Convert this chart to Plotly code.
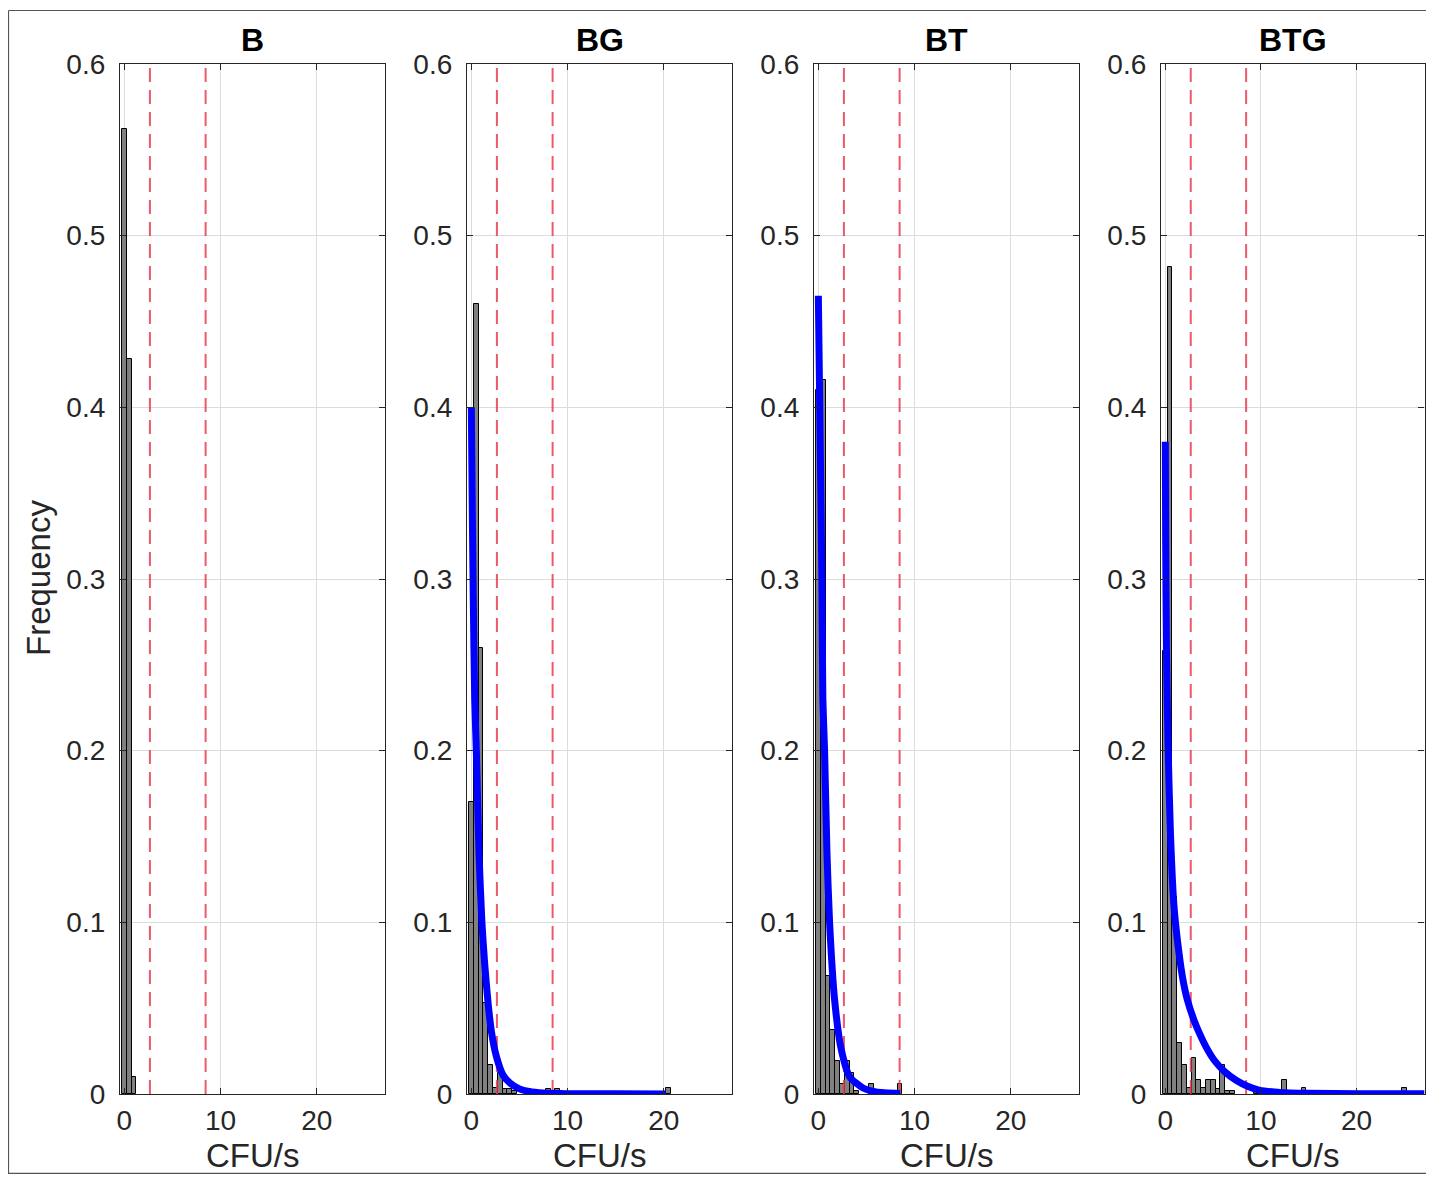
import plotly.graph_objects as go

# page body has an 8px margin: the figure starts at (8, 8) of the window
OX, OY = 8, 8
W, H = 1434 - 2 * OX, 1182 - 2 * OY

titles = ["B", "BG", "BT", "BTG"]
bin_width = 0.5
thresholds = [2.66, 8.45]

B_x = [0.0, 0.5, 1.0]
B_y = [0.562, 0.428, 0.010]

BG_x = [0.0, 0.5, 1.0, 1.5, 2.0, 2.5, 3.0, 3.5, 4.0, 4.5, 6.0, 8.0, 9.0, 20.5]
BG_y = [0.17, 0.46, 0.26, 0.053, 0.017, 0.0035, 0.012, 0.003, 0.003, 0.002, 0.003, 0.003, 0.003, 0.0035]

BT_x = [0.0, 0.5, 1.0, 1.5, 2.0, 2.5, 3.0, 3.5, 4.0, 5.5, 8.5]
BT_y = [0.41, 0.416, 0.069, 0.037, 0.019, 0.006, 0.019, 0.012, 0.002, 0.006, 0.006]

BTG_x = [0.0, 0.5, 1.0, 1.5, 2.0, 2.5, 3.0, 3.5, 4.0, 4.5, 5.0, 5.5, 6.0, 6.5, 7.0, 9.5, 10.0, 12.5, 14.5, 25.0]
BTG_y = [0.258, 0.482, 0.115, 0.030, 0.017, 0.0035, 0.021, 0.008, 0.0035, 0.008, 0.008, 0.003, 0.017, 0.002, 0.002, 0.003, 0.003, 0.008, 0.0035, 0.0035]

BG_fit_x = [0, 0.1, 0.2, 0.35, 0.52, 0.8, 1.1, 1.4, 1.74, 2.1, 2.6, 3.3, 4.0, 5.0, 6.0, 7.5, 10, 15, 20.2]
BG_fit_y = [0.40, 0.34, 0.29, 0.23, 0.20, 0.14, 0.10, 0.075, 0.053, 0.036, 0.022, 0.011, 0.0065, 0.003, 0.0015, 0.0006, 0.0002, 0.0001, 0.0]

BT_fit_x = [0, 0.15, 0.37, 0.47, 0.65, 0.9, 1.17, 1.69, 2.38, 3.26, 4.65, 6.0, 8.5]
BT_fit_y = [0.465, 0.40, 0.30, 0.23, 0.20, 0.14, 0.10, 0.055, 0.026, 0.010, 0.0035, 0.0012, 0.0003]

BTG_fit_x = [0, 0.04, 0.12, 0.3, 0.55, 0.9, 1.3, 1.8, 2.3, 3.0, 3.6, 4.3, 5.1, 6.2, 7.4, 8.6, 9.8, 12, 15, 20, 27.1]
BTG_fit_y = [0.38, 0.32, 0.26, 0.20, 0.15, 0.11, 0.088, 0.068, 0.055, 0.043, 0.035, 0.027, 0.0198, 0.013, 0.008, 0.0045, 0.0023, 0.0009, 0.0004, 0.0002, 0.0001]

hist_x = [B_x, BG_x, BT_x, BTG_x]
hist_y = [B_y, BG_y, BT_y, BTG_y]
fits = [None, (BG_fit_x, BG_fit_y), (BT_fit_x, BT_fit_y), (BTG_fit_x, BTG_fit_y)]

x_ticks = [0, 10, 20]
y_ticks = [0, 0.1, 0.2, 0.3, 0.4, 0.5, 0.6]
y_ticktext = ["0", "0.1", "0.2", "0.3", "0.4", "0.5", "0.6"]
x_range = [-0.45, 27.1]
y_range = [0, 0.6]

# layout geometry (window pixels)
lefts = [120, 467, 814, 1161]
rights = [385, 732, 1079, 1424.5]
top_px, bot_px = 64, 1094


def px(x):
    return (x - OX) / W


def py(y):
    return 1 - (y - OY) / H


FONT = "Liberation Sans, Arial, Helvetica, sans-serif"
AX = "#262626"

fig = go.Figure()
for i in range(4):
    xa = "x" if i == 0 else f"x{i+1}"
    ya = "y" if i == 0 else f"y{i+1}"
    fig.add_trace(go.Bar(x=hist_x[i], y=hist_y[i], width=bin_width,
                         marker=dict(color="#808080", line=dict(color="black", width=1)),
                         xaxis=xa, yaxis=ya, showlegend=False))
    for t in thresholds:
        fig.add_trace(go.Scatter(x=[t, t], y=y_range, mode="lines",
                                 line=dict(color="rgba(232,60,80,0.85)", width=2, dash="14px,8px"),
                                 xaxis=xa, yaxis=ya, showlegend=False))
    if fits[i] is not None:
        fig.add_trace(go.Scatter(x=fits[i][0], y=fits[i][1], mode="lines",
                                 line=dict(color="#0000ff", width=7, shape="spline", smoothing=0.6),
                                 xaxis=xa, yaxis=ya, showlegend=False))

layout = dict(width=W, height=H, margin=dict(l=0, r=0, t=0, b=0, pad=0), autosize=False,
              paper_bgcolor="white", plot_bgcolor="white", bargap=0,
              font=dict(family=FONT, color=AX, size=26))

ydom = [py(bot_px), py(top_px)]
annotations = []
for i in range(4):
    xk = "xaxis" if i == 0 else f"xaxis{i+1}"
    yk = "yaxis" if i == 0 else f"yaxis{i+1}"
    xd = [px(lefts[i]), min(1.0, px(rights[i]))]
    common = dict(showgrid=True, gridcolor="#dcdcdc", gridwidth=1, zeroline=False,
                  showline=True, linecolor=AX, linewidth=1.3, mirror="ticks",
                  ticks="inside", ticklen=6, tickcolor=AX, automargin=False,
                  tickfont=dict(size=28, color=AX, family=FONT))
    layout[xk] = dict(domain=xd, range=x_range, tickvals=x_ticks, ticktext=[str(v) for v in x_ticks],
                      ticklabelstandoff=1, anchor="y" if i == 0 else f"y{i+1}", **common)
    layout[yk] = dict(domain=ydom, range=y_range, tickvals=y_ticks, ticktext=y_ticktext,
                      ticklabelstandoff=8, anchor="x" if i == 0 else f"x{i+1}", **common)
    cx = px((lefts[i] + rights[i]) / 2)
    annotations.append(dict(text=f"<b>{titles[i]}</b>", x=cx, y=py(40), xref="paper", yref="paper",
                            showarrow=False, font=dict(size=32, color="black", family=FONT),
                            xanchor="center", yanchor="middle"))
    annotations.append(dict(text="CFU/s", x=cx, y=py(1155), xref="paper", yref="paper",
                            showarrow=False, font=dict(size=33, color=AX, family=FONT),
                            xanchor="center", yanchor="middle"))
annotations.append(dict(text="Frequency", x=px(38), y=py(578), xref="paper", yref="paper",
                        textangle=-90, showarrow=False, font=dict(size=33, color=AX, family=FONT),
                        xanchor="center", yanchor="middle"))
layout["annotations"] = annotations
frame = dict(color="#555555", width=1.2)
layout["shapes"] = [
    dict(type="line", xref="paper", yref="paper", x0=px(8.5), x1=1, y0=py(10.5), y1=py(10.5), line=frame),
    dict(type="line", xref="paper", yref="paper", x0=px(8.5), x1=px(8.5), y0=0, y1=py(10.5), line=frame),
    dict(type="line", xref="paper", yref="paper", x0=px(8.5), x1=1, y0=0.0005, y1=0.0005, line=frame),
]
fig.update_layout(**layout)
fig.write_html("out.html")
